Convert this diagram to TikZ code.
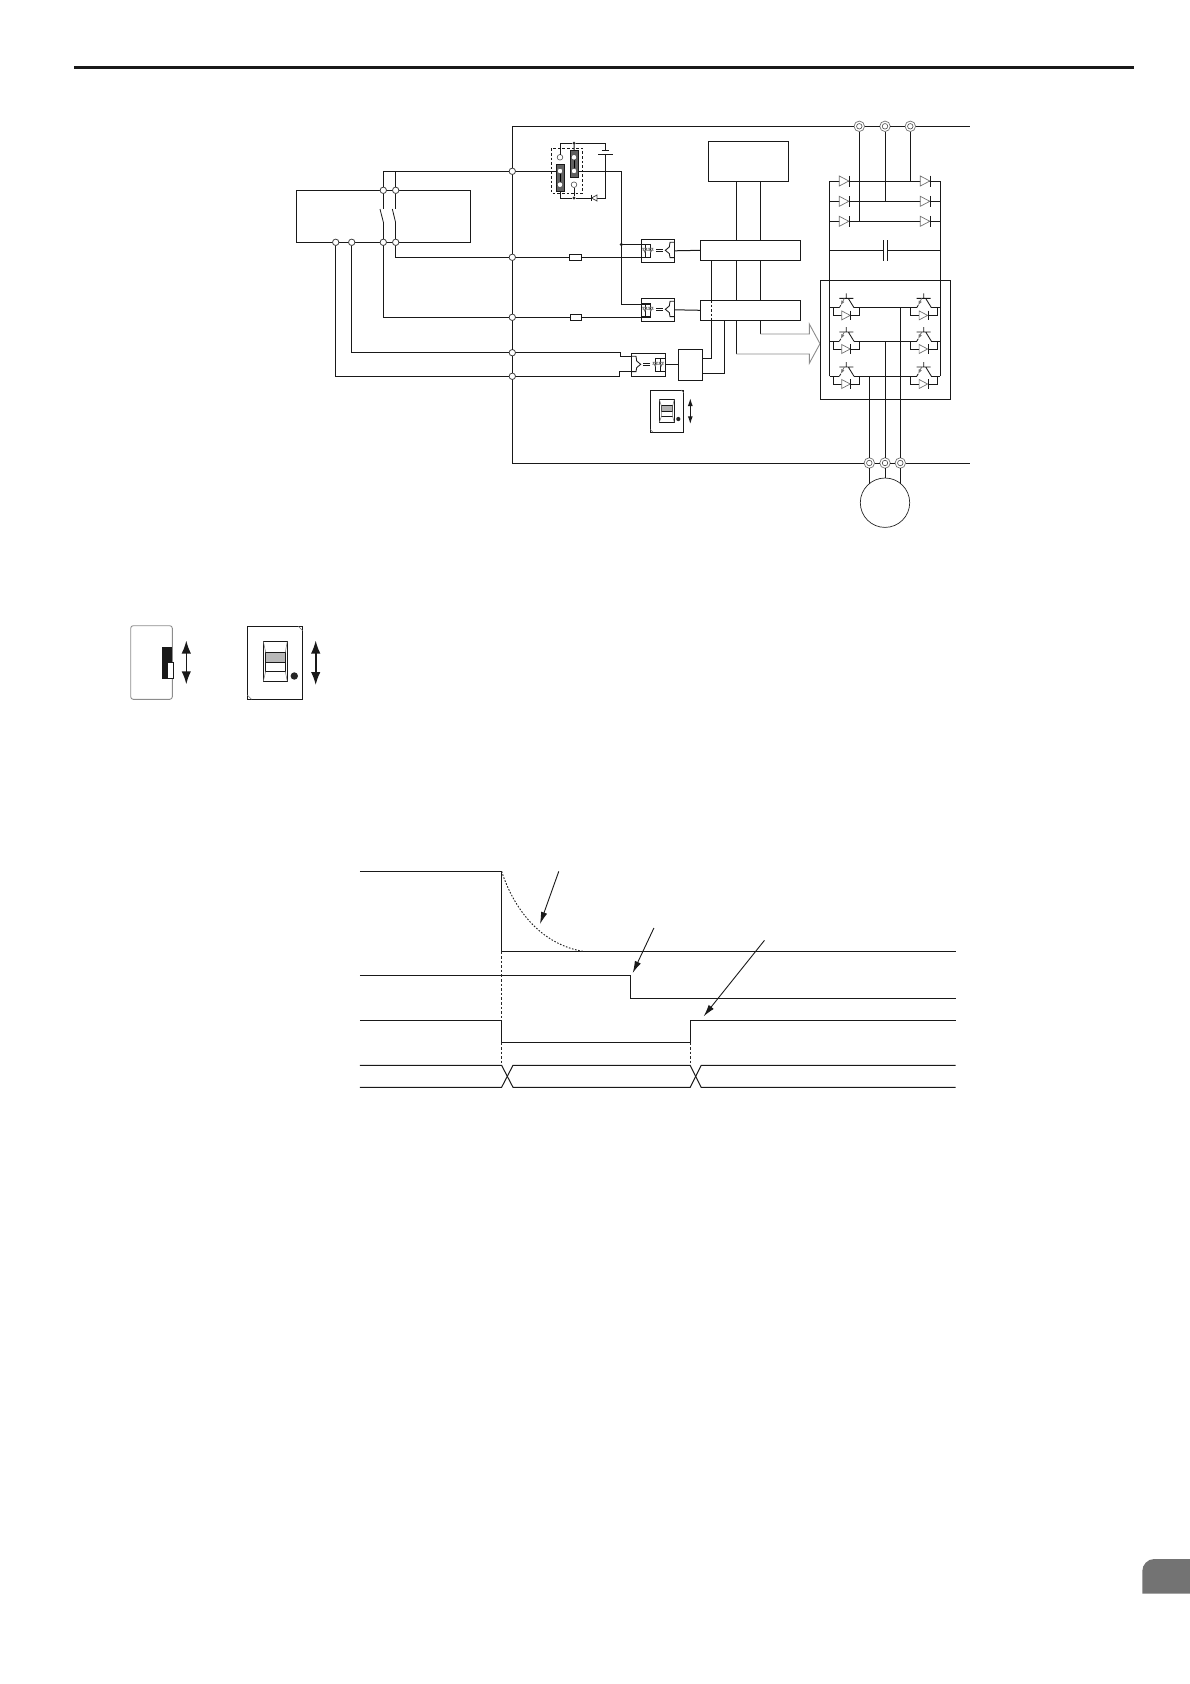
\documentclass[tikz,border=0pt]{standalone}
\usetikzlibrary{arrows.meta}
\definecolor{tabgray}{gray}{0.45}
\definecolor{jumpgray}{gray}{0.38}
\definecolor{thingray}{gray}{0.45}
\tikzset{
  wire/.style={line width=1pt,black!90},
  boxn/.style={draw=black!90,line width=1pt,fill=white,inner sep=0pt,outer sep=0pt},
  junc/.style={circle,draw=black!75,line width=0.8pt,fill=white,inner sep=0pt,outer sep=0pt,minimum size=6.4pt},
  term/.style={circle,draw=black!55,line width=0.7pt,fill=white,inner sep=0pt,outer sep=0pt,minimum size=10.5pt},
  dotn/.style={circle,fill=black!85,inner sep=0pt,outer sep=0pt,minimum size=3.4pt},
  timing/.style={line width=1pt,black!90},
  dots/.style={line width=0.95pt,black!85,dash pattern=on 1.6pt off 1.6pt},
  callout/.style={line width=0.9pt,black!90,-{Latex[length=12pt,width=6.5pt]}},
  updown/.style={line width=1.3pt,black!90,{Latex[length=8pt,width=5pt]}-{Latex[length=8pt,width=5pt]}},
  bigupdown/.style={line width=1.6pt,black!90,{Latex[length=13pt,width=9.5pt]}-{Latex[length=13pt,width=9.5pt]}},
  grayline/.style={line width=0.9pt,black!45},
  pin/.style={circle,draw=black!70,line width=0.6pt,fill=white,inner sep=0pt,outer sep=0pt,minimum size=5.6pt},
}
% box by corners
\newcommand\bx[6][]{\node[boxn,#1,minimum width={(#5-#3)*1pt},minimum height={(#6-#4)*1pt}] (#2) at ({(#3+#5)/2},{(#4+#6)/2}) {};}
% rectifier diode: x of left, y
\newcommand\rdio[2]{%
  \filldraw[fill=white,draw=thingray,line width=0.7pt] (#1,#2-5) -- (#1,#2+5) -- (#1+9.5,#2) -- cycle;
  \draw[wire] (#1+10,#2-5.5) -- (#1+10,#2+5.5);}
% igbt with freewheel diode
\newcommand\igbt[2]{%
  \begin{scope}[shift={(#1,#2)}]
    \draw[wire,line width=0.85pt] (0,-9.3) -- (14,-9.3) (7,-14.3) -- (7,-9.3) (9,-9.3) -- (14.7,0);
    \draw[line width=0.8pt,thingray,-{Latex[length=4.5pt,width=3.5pt]}] (5,-9.3) -- (1.5,-2.5);
    \draw[wire,line width=0.8pt] (1.5,-2.5) -- (0,0);
    \draw[wire] (-6.2,0) -- (-6.2,7.7) -- (2.4,7.7);
    \filldraw[fill=white,draw=thingray,line width=0.7pt] (2.4,3.2) -- (2.4,12.2) -- (10.9,7.7) -- cycle;
    \draw[wire,line width=0.85pt] (11.6,3) -- (11.6,12.4);
    \draw[wire] (11.6,7.7) -- (20.5,7.7) -- (20.5,0);
  \end{scope}}
% optocoupler interior: origin at top-left of box, xs = x scale
\newcommand\optoin[3]{%
  \begin{scope}[shift={(#1,#2)},xscale=#3]
    \draw[wire,line width=0.8pt] (0,5) -- (9.4,5) -- (9.4,18) -- (0,18) (4.4,5) -- (4.4,18);
    \draw[line width=0.65pt,thingray] (1.2,11) -- (12.4,11)
      (1.4,9) -- (5.6,9) -- (3.5,13) -- cycle (7.4,9) -- (11.6,9) -- (9.5,13) -- cycle;
    \draw[wire,line width=0.85pt] (14.7,10) -- (21.3,10) (14.7,12) -- (21.3,12);
    \draw[wire,line width=0.85pt] (33.4,3) -- (28.7,3) -- (28,7.7) -- (24,11) -- (28,14.3) -- (28.7,18.3) -- (33.4,18.3);
  \end{scope}}
\begin{document}
\begin{tikzpicture}[x=1pt,y=-1pt]
\useasboundingbox (0,0) rectangle (1190,1684);
% page furniture
\fill[black!90] (74,66.2) rectangle (1134,69.4);
\fill[tabgray] (1190,1593.5) -- (1142.3,1593.5) -- (1142.3,1571) .. controls (1142.3,1564.4) and (1147.7,1559) .. (1154.3,1559) -- (1190,1559) -- cycle;

% ---- left box
\bx{lb}{296.3}{190.3}{470.3}{242.3}
% ---- named points
\node[junc] (a1) at (383.3,190.3) {};
\node[junc] (a2) at (395.7,190.3) {};
\node[junc] (b1) at (383.3,242.3) {};
\node[junc] (b2) at (395.7,242.3) {};
\node[junc] (b3) at (335.7,242.3) {};
\node[junc] (b4) at (351.7,242.3) {};
\node[junc] (j1) at (512.3,171.3) {};
\node[junc] (j2) at (512.3,257.3) {};
\node[junc] (j3) at (512.3,317.3) {};
\node[junc] (j4) at (512.3,352.7) {};
\node[junc] (j5) at (512.3,376.3) {};
\coordinate (fTL) at (512.3,126.3);
\coordinate (fTR) at (970,126.3);
\coordinate (fBL) at (512.3,463);
\coordinate (fBR) at (970,463);
\foreach \n/\x in {T1/859.3,T2/885,T3/910.3}{
  \node[term] (\n) at (\x,126.3) {};
  \node[circle,draw=black!70,line width=0.6pt,inner sep=0pt,minimum size=5.5pt] at (\x,126.3) {};
}
\foreach \n/\x in {U1/869.3,U2/885,U3/900.3}{
  \node[term] (\n) at (\x,463) {};
  \node[circle,draw=black!70,line width=0.6pt,inner sep=0pt,minimum size=5.5pt] at (\x,463) {};
}
% frame
\draw[wire] (fTL) -- (T1) -- (T2) -- (T3) -- (fTR);
\draw[wire] (fBL) -- (U1) -- (U2) -- (U3) -- (fBR);
\draw[wire] (fTL) -- (j1) -- (j2) -- (j3) -- (j4) -- (j5) -- (fBL);

% ---- wires from left box
\coordinate (k1) at (383.3,171.3);
\coordinate (k2) at (395.7,171.3);
\draw[wire] (j1) -- (k2) -- (k1) -- (a1);
\draw[wire] (k2) -- (a2);
\draw[wire] (a1) -- (383.3,209);
\draw[wire,line width=0.8pt] (380,209) -- (383.3,222);
\draw[wire,line width=0.8pt] (392.3,209) -- (395.5,222);
\draw[wire] (a2) -- (395.7,209);
\draw[wire] (383.3,222) -- (b1);
\draw[wire] (395.7,222) -- (b2);
\coordinate (k3) at (383.3,317.3);
\coordinate (k4) at (395.7,257.3);
\coordinate (k5) at (351.7,352.7);
\coordinate (k6) at (335.7,376.3);
\draw[wire] (b1) -- (k3) -- (j3);
\draw[wire] (b2) -- (k4) -- (j2);
\draw[wire] (b4) -- (k5) -- (j4);
\draw[wire] (b3) -- (k6) -- (j5);

% ---- optocouplers
\bx{o1}{641.3}{239.3}{674.7}{262.3}
\bx{o2}{641.3}{298.3}{674.7}{321.3}
\bx{o3}{631.3}{353.3}{665.7}{376.3}
\optoin{641.3}{239.3}{1}
\optoin{641.3}{298.3}{1}
\optoin{664.7}{353.3}{-1}
% resistors
\bx{r1}{569.3}{254.3}{581.7}{260.3}
\bx{r2}{570.3}{314.3}{581.7}{320.3}
\coordinate (p1) at (650.7,257.3);
\coordinate (p2) at (650.7,317.3);
\draw[wire] (j2) -- (r1);
\draw[wire] (r1) -- (p1);
\draw[wire] (j3) -- (r2);
\draw[wire] (r2) -- (p2);
% lower wires to opto 3
\coordinate (q1) at (620.3,352.7);
\coordinate (q2) at (620.3,356.3);
\coordinate (q3) at (631.3,356.3);
\coordinate (q4) at (619.3,376.3);
\coordinate (q5) at (619.3,371.6);
\coordinate (q6) at (631.3,371.6);
\draw[wire] (j4) -- (q1) -- (q2) -- (q3);
\draw[wire] (j5) -- (q4) -- (q5) -- (q6);

% ---- jumper block
\draw[wire,line width=0.8pt,dash pattern=on 2.6pt off 2pt] (551.7,148.3) rectangle (582.3,193.3);
\bx[fill=jumpgray]{jr1}{556.3}{164}{564.3}{191.3}
\bx[fill=jumpgray]{jr2}{570.3}{150.3}{578.3}{177.7}
\draw[line width=0.7pt,black] (560,171) -- (560,184.7) (574,157.3) -- (574,171);
\node[pin] (pa1) at (560,157.3) {};
\node[pin] (pa2) at (560,171) {};
\node[pin] (pa3) at (560,184.7) {};
\node[pin] (pb1) at (574,157.3) {};
\node[pin] (pb2) at (574,171) {};
\node[pin] (pb3) at (574,184.7) {};
\node[dotn] (d1) at (574,143.3) {};
\node[dotn] (d2) at (574,198) {};
\node[dotn] (d3) at (621.3,244.5) {};
\coordinate (m1) at (560,143.3);
\coordinate (m2) at (605.7,143.3);
\coordinate (m3) at (605.7,150.7);
\coordinate (m4) at (605.7,154.3);
\coordinate (m5) at (605.7,198);
\coordinate (m6) at (560,198);
\draw[wire] (pa1) -- (m1) -- (d1) -- (m2) -- (m3);
\draw[wire] (d1) -- (jr2);
\draw[wire] (601.7,150.7) -- (609.4,150.7);
\draw[wire] (598.3,154.3) -- (612.6,154.3);
\draw[wire] (m4) -- (m5) -- (597,198);
\draw[wire] (591,198) -- (d2) -- (m6) -- (jr1.south -| m6);
\draw[wire] (pb3) -- (d2);
\filldraw[fill=white,draw=black!75,line width=0.75pt] (597,195) -- (597,201) -- (591.5,198) -- cycle;
\draw[wire,line width=0.9pt] (591,194.7) -- (591,201.3);
\draw[wire] (j1) -- (jr1.west |- j1);
\coordinate (n1) at (621.3,171.3);
\coordinate (n2) at (621.3,304.3);
\coordinate (n3) at (650.7,304.3);
\coordinate (n4) at (650.7,244.5);
\draw[wire] (jr2.east |- n1) -- (n1) -- (n2) -- (n3);
\draw[wire] (d3) -- (n4);

% ---- control boxes
\bx{top}{708.3}{141.3}{788.3}{181.3}
\bx{c1}{700.3}{240.3}{800.3}{260.3}
\bx{c2}{700.3}{300.3}{800.3}{320.3}
\bx{sm}{678.3}{349.3}{702.7}{380.3}
\draw[wire] (o1.east) -- (c1.west);
\draw[wire] (o2.east) -- (c2.west);
\draw[wire] (o3.east) -- (sm.west);
\draw[wire] (736.3,181.3) -- (736.3,240.3) (760.3,181.3) -- (760.3,240.3);
\draw[wire] (736.3,260.3) -- (736.3,300.3) (760.3,260.3) -- (760.3,300.3);
\draw[wire] (711.3,260.3) -- (711.3,300.3);
\draw[wire,line width=0.8pt,dash pattern=on 2.4pt off 2pt] (711.3,300.3) -- (711.3,320.3);
\draw[wire] (711.3,320.3) -- (711.3,358.3) -- (702.7,358.3);
\draw[wire] (724.3,320.3) -- (724.3,373.3) -- (702.7,373.3);
% gate arrow
\draw[wire] (760.3,320.3) -- (760.3,334);
\draw[wire] (736.3,320.3) -- (736.3,354);
\draw[grayline] (760.3,334) -- (809.3,334) -- (809.3,324) -- (820,343.7) -- (809.3,363.3) -- (809.3,354) -- (736.3,354);

% ---- DIP switch in schematic
\bx{sw}{650.3}{390}{683.7}{432.3}
\bx{swi}{659.3}{399.3}{674.3}{422.3}
\fill[black!30] (661.3,405.7) rectangle (672.7,411.7);
\draw[wire,line width=0.7pt] (661.3,405.7) rectangle (672.7,411.7) (661.3,416.7) -- (672.7,416.7);
\draw[line width=0.5pt,thingray] (659.3,399.3) -- (661.3,405.7) (674.3,399.3) -- (672.7,405.7) (661.3,416.7) -- (659.3,422.3) (672.7,416.7) -- (674.3,422.3) (661.3,405.7) -- (661.3,416.7) (672.7,405.7) -- (672.7,416.7);
\node[dotn,minimum size=4.2pt] (swd) at (678.3,419) {};
\draw[line width=0.5pt,thingray] (681,390) -- (683.7,392.7) (650.3,429.6) -- (653,432.3);
\coordinate (sa) at (690.3,398);
\coordinate (sb) at (690.3,424.3);
\draw[updown] (sa) -- (sb);

% ---- rectifier
\draw[wire] (T1) -- (859.3,221.3);
\draw[wire] (T2) -- (885,201.3);
\draw[wire] (T3) -- (910.3,181);
\draw[wire] (829.7,376.3) -- (829.7,181) -- (940.3,181) -- (940.3,376.3);
\draw[wire] (829.7,201.3) -- (940.3,201.3);
\draw[wire] (829.7,221.3) -- (940.3,221.3);
\foreach \y in {181,201.3,221.3}{\rdio{839.3}{\y}\rdio{920.3}{\y}}
% capacitor
\draw[wire] (829.7,250.3) -- (883.3,250.3) (887.3,250.3) -- (940.3,250.3);
\draw[wire] (883.3,240.3) -- (883.3,260.7) (887.3,240.3) -- (887.3,260.7);

% ---- inverter
\draw[wire] (820.3,280.3) rectangle (950.3,399.3);
\foreach \y in {307.7,341.3,376.3}{
  \draw[wire] (829.7,\y) -- (839.3,\y) (854,\y) -- (916.7,\y) (931.4,\y) -- (940.3,\y);
  \igbt{839.3}{\y}
  \igbt{916.7}{\y}
}
\node[circle,draw=black!85,line width=0.7pt,fill=white,inner sep=0pt,outer sep=0pt,minimum size=49.4pt] (mot) at (885,502.7) {};
\draw[wire] (869.3,376.3) -- (U1);
\draw[wire] (885,341.3) -- (U2);
\draw[wire] (900.3,307.7) -- (U3);
\draw[wire] (U1) -- (869.3,483.5);
\draw[wire] (U2) -- (mot.north);
\draw[wire] (U3) -- (900.3,483.5);

% ---- switch details, left
\draw[line width=0.9pt,black!45,rounded corners=2.5pt] (130.7,625.7) rectangle (172.3,699.3);
\fill[black!90] (162.3,647) rectangle (172.3,679);
\filldraw[fill=white,draw=black!90,line width=0.7pt] (167.7,662.3) rectangle (173.7,678.3);
\coordinate (la) at (186.3,640.5);
\coordinate (lb2) at (186.3,684.3);
\draw[bigupdown] (la) -- (lb2);
% ---- switch details, right
\bx{ds}{247.3}{626.3}{302.7}{699.3}
\bx{dsi}{263.3}{641.3}{287.3}{681.3}
\fill[black!28] (265.7,652.3) rectangle (285.3,662.3);
\draw[wire,line width=0.7pt] (265.7,652.3) rectangle (285.3,671.3) (265.7,662.3) -- (285.3,662.3);
\draw[line width=0.5pt,thingray] (263.3,641.3) -- (265.7,652.3) (287.3,641.3) -- (285.3,652.3) (265.7,671.3) -- (263.3,681.3) (285.3,671.3) -- (287.3,681.3);
\node[dotn,minimum size=7.4pt] (dsd) at (294.3,676) {};
\draw[line width=0.5pt,thingray] (298.3,626.3) -- (302.7,630.7) (247.3,695) -- (251.6,699.3);
\coordinate (ra) at (315.7,640.5);
\coordinate (rb) at (315.7,685);
\draw[bigupdown] (ra) -- (rb);

% ---- timing chart
\draw[timing] (359.8,871.3) -- (501.6,871.3) -- (501.6,951.3) -- (955.5,951.3);
\draw[timing] (359.8,975.3) -- (630.2,975.3) -- (630.2,998.3) -- (955.5,998.3);
\draw[timing] (359.8,1020.3) -- (501.6,1020.3) -- (501.6,1042.3) -- (690.2,1042.3) -- (690.2,1020.3) -- (955.5,1020.3);
\draw[timing] (359.8,1065.3) -- (501.6,1065.3) -- (513,1087.3) -- (690.2,1087.3) -- (701.2,1065.3) -- (955.5,1065.3);
\draw[timing] (359.8,1087.3) -- (501.6,1087.3) -- (513,1065.3) -- (690.2,1065.3) -- (701.2,1087.3) -- (955.5,1087.3);
\draw[dots] (501.6,871.3) .. controls (516,915) and (545,945) .. (583,951.3);
\draw[dots,dash pattern=on 2.6pt off 2pt] (501.6,951.3) -- (501.6,1020.3);
\draw[dots,dash pattern=on 2.6pt off 2pt] (501.6,1042.3) -- (501.6,1065.3);
\draw[dots,dash pattern=on 2.6pt off 2pt] (690.2,1042.3) -- (690.2,1065.3);
\coordinate (ca1) at (558.8,871.3);
\coordinate (ca2) at (540,924);
\coordinate (cb1) at (653.9,928);
\coordinate (cb2) at (632.7,973);
\coordinate (cc1) at (764.5,940.3);
\coordinate (cc2) at (703.7,1016.3);
\draw[callout] (ca1) -- (ca2);
\draw[callout] (cb1) -- (cb2);
\draw[callout] (cc1) -- (cc2);
\end{tikzpicture}
\end{document}
